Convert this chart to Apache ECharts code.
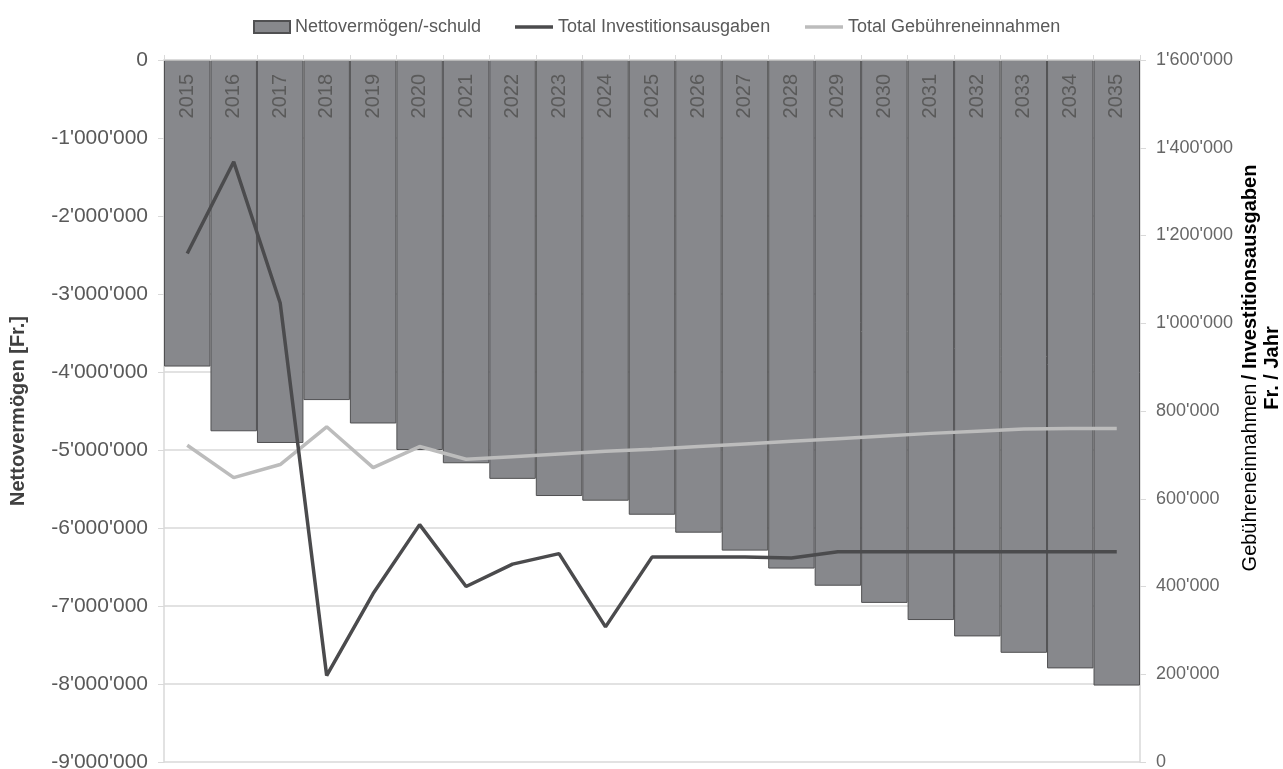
<!DOCTYPE html>
<html><head><meta charset="utf-8">
<script src="https://cdn.jsdelivr.net/npm/echarts@6/dist/echarts.min.js"></script>
<style>html,body{margin:0;padding:0;background:#fff}#c{width:1283px;height:769px}</style>
</head><body><div id="c"></div>
<script>
const years = ['2015','2016','2017','2018','2019','2020','2021','2022','2023','2024','2025','2026','2027','2028','2029','2030','2031','2032','2033','2034','2035'];
const nettovermoegen = [-3930000,-4760000,-4910000,-4360000,-4660000,-5000000,-5170000,-5370000,-5590000,-5650000,-5830000,-6060000,-6290000,-6520000,-6740000,-6960000,-7180000,-7390000,-7600000,-7800000,-8020000];
const investitionen = [1159000,1368000,1046000,197000,384000,541000,400000,451000,475000,308000,467000,467000,467000,465000,479000,479000,479000,479000,479000,479000,479000];
const gebuehren = [722000,648000,678000,764000,671000,719000,690000,696000,702000,708000,713000,719000,725000,731000,737000,743000,749000,754000,759000,760000,760000];
const seriesNames = ['Nettovermögen/-schuld','Total Investitionsausgaben','Total Gebühreneinnahmen'];
const leftAxis = {min:-9000000, max:0, interval:1000000, title:'Nettovermögen [Fr.]'};
const rightAxis = {min:0, max:1600000, interval:200000, titleLight:'Gebühreneinnahmen', titleBold:'/ Investitionsausgaben', titleLine2:'Fr. / Jahr'};

const FONT = "'Liberation Sans', Arial, sans-serif";
function fmt(v){
  const s = Math.abs(Math.round(v)).toString().replace(/\B(?=(\d{3})+(?!\d))/g, "'");
  return (v < 0 ? '-' : '') + s;
}
const chart = echarts.init(document.getElementById('c'), null, {renderer:'canvas'});
const legendText = {fontSize:18, color:'#595959', fontFamily:FONT};
chart.setOption({
  animation:false,
  backgroundColor:'#ffffff',
  textStyle:{fontFamily:FONT},
  grid:{left:164, right:143, top:60, bottom:7, containLabel:false, outerBoundsMode:'none'},
  legend:[
    {data:[{name:seriesNames[0], icon:'rect'}], left:248, top:13, itemWidth:36, itemHeight:12, textStyle:legendText},
    {data:[{name:seriesNames[1], icon:'rect'}], left:510, top:13, itemWidth:38, itemHeight:3.5, textStyle:legendText},
    {data:[{name:seriesNames[2], icon:'rect'}], left:800, top:13, itemWidth:38, itemHeight:3.5, textStyle:legendText}
  ],
  xAxis:{
    type:'category', position:'top', data:years, boundaryGap:true,
    axisLine:{show:true, onZero:false, lineStyle:{color:'#d9d9d9', width:1.5}},
    axisTick:{show:true, length:5, lineStyle:{color:'#d9d9d9'}},
    axisLabel:{inside:true, rotate:-90, margin:14, color:'#5a5a5a', fontSize:20, fontFamily:FONT},
    splitLine:{show:false}, z:10
  },
  yAxis:[
    {type:'value', position:'left', min:leftAxis.min, max:leftAxis.max, interval:leftAxis.interval,
     name:leftAxis.title, nameLocation:'middle', nameGap:136,
     nameTextStyle:{fontSize:20, fontWeight:'bold', color:'#404040', fontFamily:FONT},
     axisLine:{show:true, lineStyle:{color:'#d9d9d9', width:1.5}},
     axisTick:{show:true, length:6, lineStyle:{color:'#d9d9d9'}},
     axisLabel:{margin:16, color:'#595959', fontSize:21, fontFamily:FONT, formatter:fmt},
     splitLine:{show:true, lineStyle:{color:'#d9d9d9', width:1.5}}},
    {type:'value', position:'right', min:rightAxis.min, max:rightAxis.max, interval:rightAxis.interval,
     axisLine:{show:true, lineStyle:{color:'#d9d9d9', width:1.5}},
     axisTick:{show:true, length:6, lineStyle:{color:'#d9d9d9'}},
     axisLabel:{margin:16, color:'#666666', fontSize:18, fontFamily:FONT, formatter:fmt},
     splitLine:{show:false}}
  ],
  graphic:[{
    type:'text', x:1261, y:368, rotation:Math.PI/2, silent:true,
    style:{
      text:'{g|'+rightAxis.titleLight+'} {b|'+rightAxis.titleBold+'}\n{b|'+rightAxis.titleLine2+'}',
      align:'center', verticalAlign:'middle', lineHeight:22,
      rich:{
        g:{fontSize:20, color:'#bdbdbd', fontFamily:FONT, lineHeight:22},
        b:{fontSize:20, fontWeight:'bold', color:'#404040', fontFamily:FONT, lineHeight:22}
      }
    }
  }],
  series:[
    {name:seriesNames[0], type:'bar', data:nettovermoegen, xAxisIndex:0, yAxisIndex:0,
     barCategoryGap:'0%', barGap:'0%',
     itemStyle:{color:'#87888c', borderColor:'#505052', borderWidth:1}},
    {name:seriesNames[2], type:'line', data:gebuehren, yAxisIndex:1, symbol:'none', showSymbol:false,
     lineStyle:{color:'#bcbcbc', width:3.5}, itemStyle:{color:'#bcbcbc'}, z:3},
    {name:seriesNames[1], type:'line', data:investitionen, yAxisIndex:1, symbol:'none', showSymbol:false,
     lineStyle:{color:'#4b4b4d', width:3.5}, itemStyle:{color:'#4b4b4d'}, z:4}
  ]
});
</script></body></html>
